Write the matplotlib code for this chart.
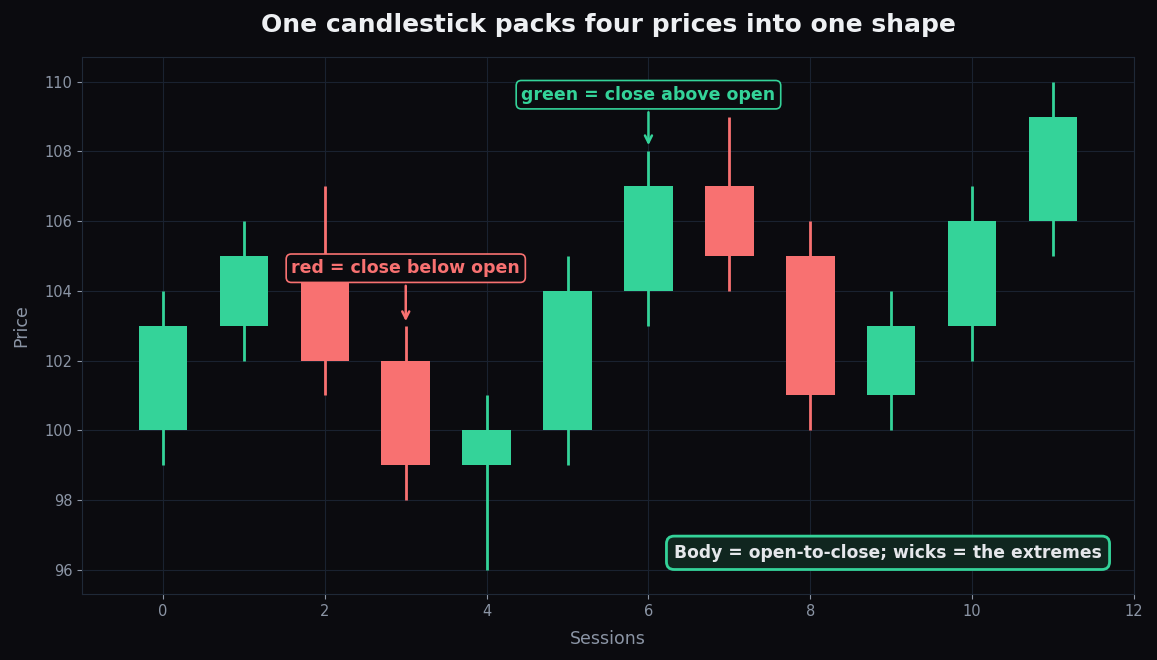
import numpy as np
import matplotlib.pyplot as plt

# OHLC per session
sessions = np.arange(12)
opens  = [100, 103, 105, 102,  99, 100, 104, 107, 105, 101, 103, 106]
closes = [103, 105, 102,  99, 100, 104, 107, 105, 101, 103, 106, 109]
highs  = [104, 106, 107, 103, 101, 105, 108, 109, 106, 104, 107, 110]
lows   = [ 99, 102, 101,  98,  96,  99, 103, 104, 100, 100, 102, 105]

bg = "#0b0b0f"
green = "#34d399"
red = "#f87171"
txt = "#8b95a5"

fig, ax = plt.subplots(figsize=(11.57, 6.6), dpi=100)
fig.patch.set_facecolor(bg)
ax.set_facecolor(bg)

for s, o, c, h, l in zip(sessions, opens, closes, highs, lows):
    col = green if c >= o else red
    #wick
    ax.vlines(s, l, h, color=col, lw=2, zorder=2)
    #body
    ax.bar(s, abs(c - o), bottom=min(o, c), width=0.6, color=col, zorder=3)

ax.set_xlim(-1, 12)
ax.set_ylim(95.3, 110.7)
ax.set_yticks(np.arange(96, 111, 2))
ax.set_xticks(np.arange(0, 13, 2))

ax.grid(True, color="#1a2230", lw=0.8, zorder=0)
ax.set_axisbelow(True)
for sp in ax.spines.values():
    sp.set_color("#1f2937")
ax.tick_params(colors=txt, labelsize=10.5)
ax.tick_params(axis="both", color="#8b95a5")

ax.set_xlabel("Sessions", color=txt, fontsize=12.5, labelpad=8)
ax.set_ylabel("Price", color=txt, fontsize=12.5, labelpad=10)
ax.set_title("One candlestick packs four prices into one shape", color="#eef0f3",
             fontsize=18, fontweight="bold", pad=18)

ax.annotate("red = close below open", xy=(3, 103.05), xytext=(3, 104.65),
            ha="center", va="center", color=red, fontsize=12.5, fontweight="bold",
            bbox=dict(boxstyle="round,pad=0.3", fc=bg, ec=red, lw=1.2),
            arrowprops=dict(arrowstyle="->", color=red, lw=1.8), zorder=5)
ax.annotate("green = close above open", xy=(6, 108.1), xytext=(6, 109.63),
            ha="center", va="center", color=green, fontsize=12.5, fontweight="bold",
            bbox=dict(boxstyle="round,pad=0.3", fc=bg, ec=green, lw=1.2),
            arrowprops=dict(arrowstyle="->", color=green, lw=1.8), zorder=5)

ax.text(0.9696, 0.06, "Body = open-to-close; wicks = the extremes", transform=ax.transAxes,
        ha="right", va="bottom", color="#e5e7eb", fontsize=12.3, fontweight="bold",
        bbox=dict(boxstyle="round,pad=0.45", fc="#10261f", ec=green, lw=2), zorder=6)

fig.subplots_adjust(left=0.071, right=0.98, top=0.913, bottom=0.1)
fig.savefig("out.png", dpi=100, facecolor=bg)
